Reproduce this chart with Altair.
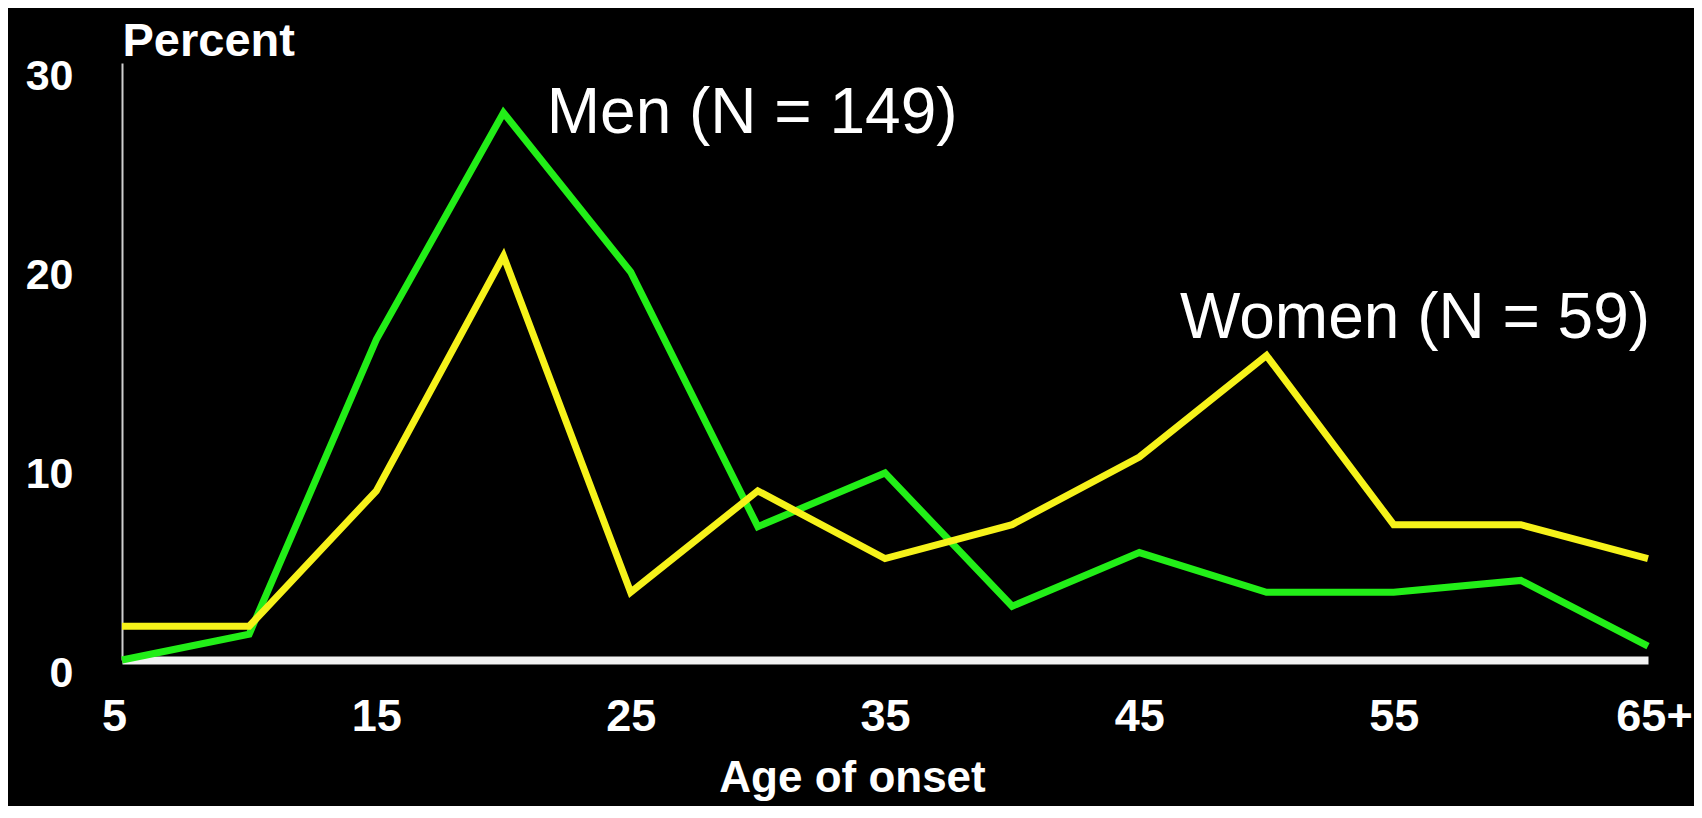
import altair as alt
import pandas as pd

ages = [5, 10, 15, 20, 25, 30, 35, 40, 45, 50, 55, 60, 65]
men = [0.0, 1.3, 16.1, 27.5, 19.5, 6.7, 9.4, 2.7, 5.4, 3.4, 3.4, 4.0, 0.7]
women = [1.7, 1.7, 8.5, 20.3, 3.4, 8.5, 5.1, 6.8, 10.2, 15.3, 6.8, 6.8, 5.1]
series = ["Men", "Women"]
x_ticks = [5, 15, 25, 35, 45, 55, 65]
y_ticks = [0, 10, 20, 30]
labels = ["Men (N = 149)", "Women (N = 59)"]
label_x = [21.7, 46.6]
label_y = [26.5, 16.2]

df = pd.DataFrame(
    {"age": ages * 2, "pct": men + women, "sex": [series[0]] * len(ages) + [series[1]] * len(ages)}
)
ann = pd.DataFrame({"text": labels, "x": label_x, "y": label_y})

FONT = "Liberation Sans, Arial, sans-serif"

xscale = alt.Scale(domain=[5, 65], nice=False, zero=False)
yscale = alt.Scale(domain=[0, 30], nice=False)

lines = alt.Chart(df).mark_line(strokeWidth=7).encode(
    x=alt.X(
        "age:Q",
        scale=xscale,
        axis=alt.Axis(
            values=x_ticks,
            title="Age of onset",
            titleFont=FONT,
            titleFontSize=44,
            titleFontWeight="bold",
            titleColor="white",
            titleX=730,
            titleY=131,
            titleAlign="center",
            titleBaseline="alphabetic",
            labelFont=FONT,
            labelFontSize=45,
            labelFontWeight="bold",
            labelColor="white",
            labelPadding=34,
            labelBaseline="top",
            labelExpr="datum.value == 65 ? '65+' : datum.label",
            labelOffset={"condition": [{"test": "datum.value == 5", "value": -8},
                                       {"test": "datum.value == 65", "value": 6}],
                         "value": 0},
            labelFlush=False,
            labelOverlap=False,
            ticks=False,
            tickSize=0,
            grid=False,
            domainColor="#f2f2f2",
            domainWidth=8,
        ),
    ),
    y=alt.Y(
        "pct:Q",
        scale=yscale,
        axis=alt.Axis(
            values=y_ticks,
            title="Percent",
            titleFont=FONT,
            titleFontSize=47,
            titleFontWeight="bold",
            titleColor="white",
            titleAngle=0,
            titleX=0,
            titleY=-8,
            titleAlign="left",
            titleBaseline="alphabetic",
            labelFont=FONT,
            labelFontSize=43,
            labelFontWeight="bold",
            labelColor="white",
            labelPadding=49,
            labelOffset=13,
            labelAlign="right",
            labelBaseline="middle",
            labelFlush=False,
            labelOverlap=False,
            ticks=False,
            tickSize=0,
            grid=False,
            domainColor="#cfcfcf",
            domainWidth=2,
        ),
    ),
    color=alt.Color(
        "sex:N",
        scale=alt.Scale(domain=series, range=["#22ee18", "#f6f21a"]),
        legend=None,
    ),
    detail="sex:N",
)

text = alt.Chart(ann).mark_text(
    align="left", baseline="alphabetic", font=FONT, fontSize=64, color="white"
).encode(
    x=alt.X("x:Q", scale=xscale),
    y=alt.Y("y:Q", scale=yscale),
    text="text:N",
)

chart = (
    alt.layer(lines, text)
    .properties(
        width=1526,
        height=597,
        autosize=alt.AutoSizeParams(type="none"),
        padding={"left": 114, "top": 55, "right": 46, "bottom": 146},
        background="black",
    )
    .configure_view(stroke=None)
)

chart.save("out.html", embed_options={"renderer": "svg", "actions": False})
